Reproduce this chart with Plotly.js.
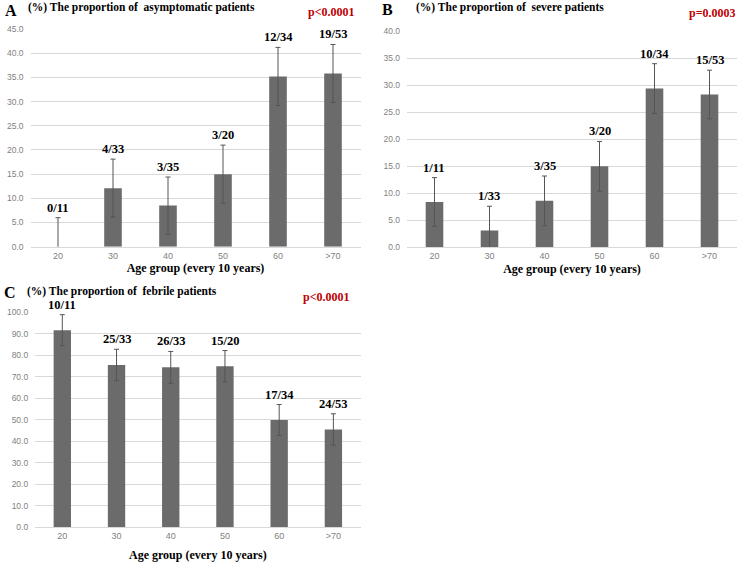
<!DOCTYPE html>
<html>
<head>
<meta charset="utf-8">
<script src="https://cdn.plot.ly/plotly-3.0.1.min.js"></script>
<style>html,body{margin:0;padding:0;background:#fff;}#chart{width:738px;height:562px;}</style>
</head>
<body>
<div id="chart"></div>
<script>
const categories = ['20', '30', '40', '50', '60', '>70'];

const asymValues = [0, 12.1, 8.5, 15.0, 35.2, 35.8];
const asymErrors = [6.0, 6.0, 5.9, 6.0, 6.0, 6.0];
const asymLabels = ['0/11', '4/33', '3/35', '3/20', '12/34', '19/53'];

const severeValues = [8.4, 3.1, 8.6, 15.0, 29.4, 28.3];
const severeErrors = [4.5, 4.5, 4.6, 4.6, 4.6, 4.5];
const severeLabels = ['1/11', '1/33', '3/35', '3/20', '10/34', '15/53'];

const febrileValues = [91.7, 75.5, 74.4, 74.9, 49.9, 45.5];
const febrileErrors = [7.2, 7.3, 7.4, 7.3, 7.2, 7.3];
const febrileLabels = ['10/11', '25/33', '26/33', '15/20', '17/34', '24/53'];

const W = 738, H = 562;
const px = x => x / W;
const py = y => (H - y) / H;

const serif = 'Liberation Serif, Times New Roman, serif';
const barColor = '#6b6b6b';
const errColor = '#555555';

function barTrace(values, errors, xa, ya) {
  return {
    type: 'bar', x: categories, y: values, xaxis: xa, yaxis: ya,
    width: 0.32, marker: {color: barColor},
    error_y: {type: 'data', array: errors, visible: true, color: errColor, thickness: 1, width: 2.5},
    hoverinfo: 'skip', showlegend: false
  };
}

const data = [
  barTrace(asymValues, asymErrors, 'x', 'y'),
  barTrace(severeValues, severeErrors, 'x2', 'y2'),
  barTrace(febrileValues, febrileErrors, 'x3', 'y3')
];

function axisX(domain, anchor, standoff) {
  return {
    domain: domain, anchor: anchor, type: 'category', range: [-0.5, categories.length - 0.5],
    showgrid: false, autorange: false,
    showline: true, linecolor: '#d9d9d9', linewidth: 1, ticks: '',
    tickfont: {family: 'Liberation Sans, Arial, sans-serif', size: 9, color: '#7f7f7f'},
    fixedrange: true,
    title: {text: 'Age group (every 10 years)', font: {family: serif, size: 12, color: '#000', weight: 'bold'}, standoff: standoff}
  };
}
function axisY(domain, anchor, range, dtick) {
  return {
    domain: domain, anchor: anchor, range: range, autorange: false, dtick: dtick, tickformat: '.1f',
    showgrid: true, gridcolor: '#d9d9d9', gridwidth: 1, zeroline: false, showline: false,
    ticks: '', ticklabelstandoff: 6,
    tickfont: {family: 'Liberation Sans, Arial, sans-serif', size: 8.5, color: '#7f7f7f'},
    fixedrange: true
  };
}

const annotations = [];
function addLabels(values, errors, labels, xa, ya) {
  categories.forEach((c, i) => {
    annotations.push({
      xref: xa, yref: ya, x: i, y: values[i] + errors[i], text: labels[i],
      showarrow: false, yanchor: 'bottom', yshift: 1,
      font: {family: serif, size: 12.5, color: '#000', weight: 'bold'}
    });
  });
}
addLabels(asymValues, asymErrors, asymLabels, 'x', 'y');
addLabels(severeValues, severeErrors, severeLabels, 'x2', 'y2');
addLabels(febrileValues, febrileErrors, febrileLabels, 'x3', 'y3');

function paperText(text, x, y, size, color, xanchor) {
  annotations.push({
    xref: 'paper', yref: 'paper', x: px(x), y: py(y), text: text, showarrow: false,
    xanchor: xanchor || 'left', yanchor: 'middle',
    font: {family: serif, size: size, color: color, weight: 'bold'}
  });
}
paperText('A', 3, 10, 16, '#000');
paperText('(%) The proportion of  asymptomatic patients', 26, 7, 11.5, '#000');
paperText('p<0.0001', 306, 12, 12, '#c00000');

paperText('B', 380, 9.5, 16, '#000');
paperText('(%) The proportion of  severe patients', 414, 7.5, 11.5, '#000');
paperText('p=0.0003', 687, 13, 12, '#c00000');

paperText('C', 2, 293, 16, '#000');
paperText('(%) The proportion of  febrile patients', 25, 291, 11.5, '#000');
paperText('p<0.0001', 301, 297, 12, '#c00000');

const layout = {
  width: W, height: H,
  margin: {l: 0, r: 0, t: 0, b: 0},
  paper_bgcolor: '#fff', plot_bgcolor: '#fff',
  xaxis: axisX([px(30.5), px(360.5)], 'y', 4),
  yaxis: axisY([py(246.7), py(29)], 'x', [0, 45], 5),
  xaxis2: axisX([px(407), px(737)], 'y2', 4),
  yaxis2: axisY([py(247.3), py(31.3)], 'x2', [0, 40], 5),
  xaxis3: axisX([px(35.2), px(360.5)], 'y3', 10),
  yaxis3: axisY([py(527.3), py(312.3)], 'x3', [0, 100], 10),
  annotations: annotations
};

Plotly.newPlot('chart', data, layout, {displayModeBar: false, staticPlot: true});
</script>
</body>
</html>
